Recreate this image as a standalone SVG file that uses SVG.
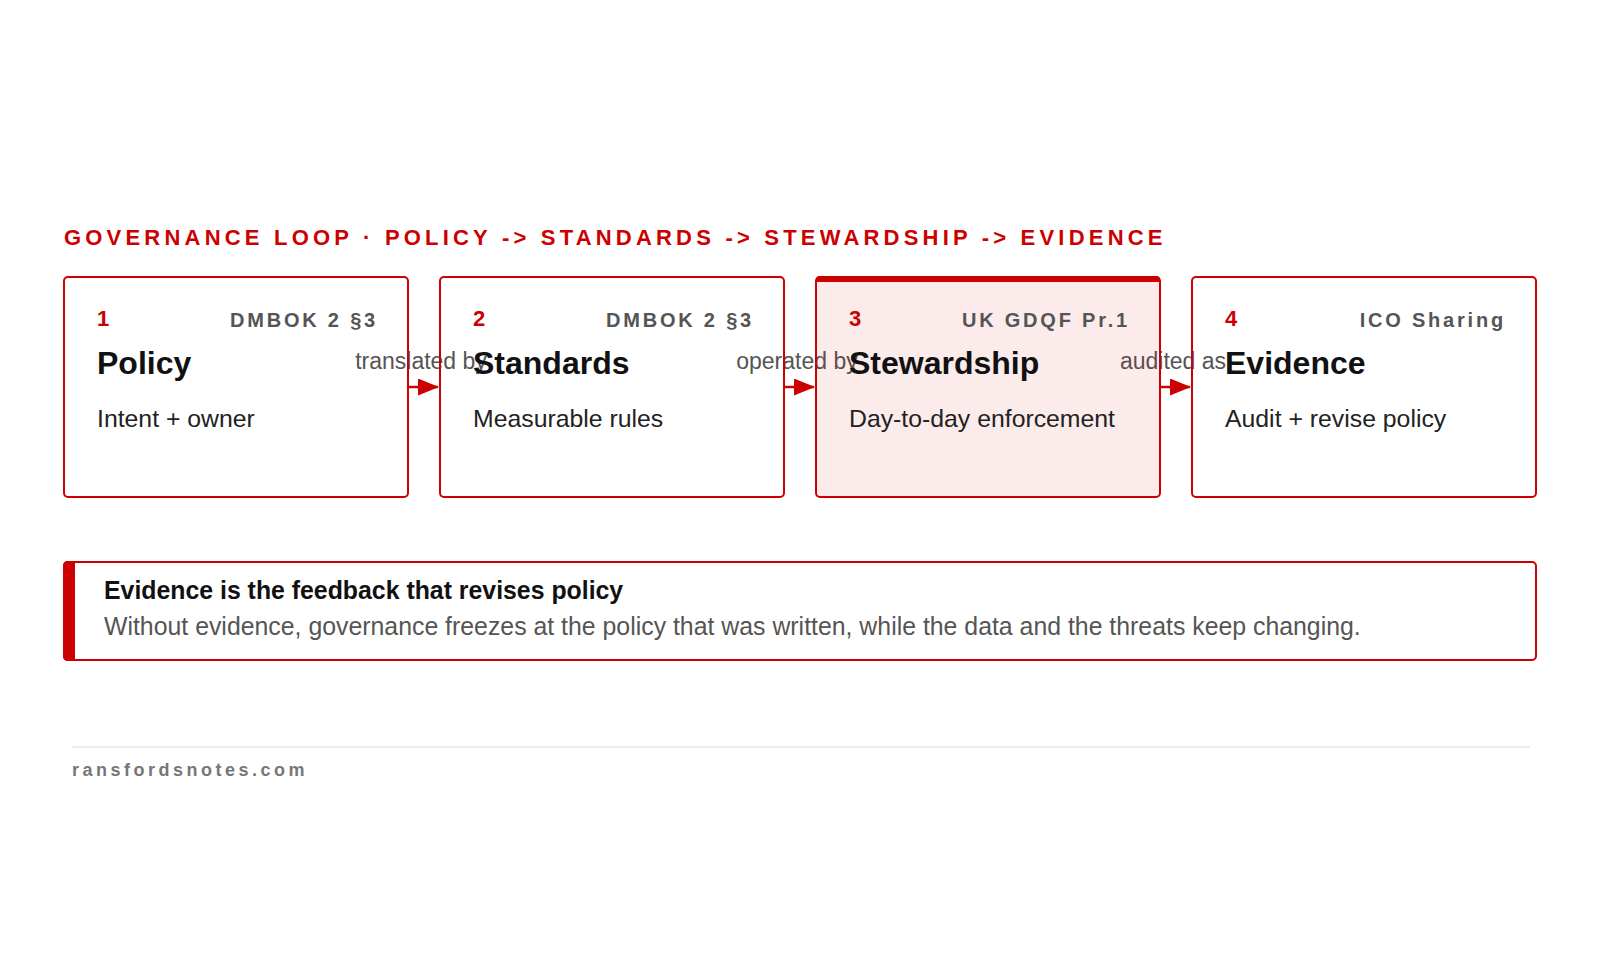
<svg xmlns="http://www.w3.org/2000/svg" width="1600" height="960" viewBox="0 0 1600 960">
<style>
text{font-family:"Liberation Sans",Arial,sans-serif}
.ttl{font-size:22px;font-weight:700;fill:#cc0000;letter-spacing:4.2px}
.box{fill:none;stroke:#cc0000;stroke-width:2}
.hl{fill:#cc0000;fill-opacity:0.08}
.num{font-size:22px;font-weight:700;fill:#cc0000}
.ref{font-size:20px;font-weight:700;fill:#555;letter-spacing:2.8px;text-anchor:end}
.name{font-size:32px;font-weight:700;fill:#111}
.body{font-size:24.8px;fill:#222}
.lbl{font-size:23px;fill:#555;text-anchor:middle}
.edge{stroke:#cc0000;stroke-width:2.5;fill:none}
.ch{font-size:24.85px;font-weight:700;fill:#111}
.cb{font-size:24.85px;fill:#555}
.foot{font-size:18px;font-weight:700;fill:#777;letter-spacing:3.5px}
</style>
<defs>
<marker id="arr" markerWidth="22" markerHeight="18" refX="20" refY="8.5" orient="auto" markerUnits="userSpaceOnUse">
<path d="M0,0 L21,8.5 L0,17 Z" fill="#cc0000"/>
</marker>
</defs>
<rect width="1600" height="960" fill="#fff"/>
<text class="ttl" x="64" y="245">GOVERNANCE LOOP · POLICY -&gt; STANDARDS -&gt; STEWARDSHIP -&gt; EVIDENCE</text>
<g id="connectors">
<path class="edge" d="M408,387 L438,387" marker-end="url(#arr)"/>
<path class="edge" d="M784,387 L814,387" marker-end="url(#arr)"/>
<path class="edge" d="M1160,387 L1190,387" marker-end="url(#arr)"/>
<text class="lbl" x="421" y="369">translated by</text>
<text class="lbl" x="797" y="369">operated by</text>
<text class="lbl" x="1173" y="369">audited as</text>
</g>
<g id="node-policy">
<rect class="box" x="64" y="277" width="344" height="220" rx="4"/>
<text class="num" x="97" y="326">1</text>
<text class="ref" x="378" y="327">DMBOK 2 §3</text>
<text class="name" x="97" y="374">Policy</text>
<text class="body" x="97" y="427">Intent + owner</text>
</g>
<g id="node-standards">
<rect class="box" x="440" y="277" width="344" height="220" rx="4"/>
<text class="num" x="473" y="326">2</text>
<text class="ref" x="754" y="327">DMBOK 2 §3</text>
<text class="name" x="473" y="374">Standards</text>
<text class="body" x="473" y="427">Measurable rules</text>
</g>
<g id="node-stewardship">
<rect class="hl" x="816" y="277" width="344" height="220" rx="4"/>
<rect class="box" x="816" y="277" width="344" height="220" rx="4"/>
<path d="M816,282 L816,280 Q816,276 820,276 L1156,276 Q1160,276 1160,280 L1160,282 Z" fill="#cc0000"/>
<text class="num" x="849" y="326">3</text>
<text class="ref" x="1130" y="327">UK GDQF Pr.1</text>
<text class="name" x="849" y="374">Stewardship</text>
<text class="body" x="849" y="427">Day-to-day enforcement</text>
</g>
<g id="node-evidence">
<rect class="box" x="1192" y="277" width="344" height="220" rx="4"/>
<text class="num" x="1225" y="326">4</text>
<text class="ref" x="1506" y="327">ICO Sharing</text>
<text class="name" x="1225" y="374">Evidence</text>
<text class="body" x="1225" y="427">Audit + revise policy</text>
</g>
<g id="callout">
<rect class="box" x="64" y="562" width="1472" height="98" rx="4"/>
<path d="M75,561 L68,561 Q63,561 63,566 L63,656 Q63,661 68,661 L75,661 Z" fill="#cc0000"/>
<text class="ch" x="104" y="599">Evidence is the feedback that revises policy</text>
<text class="cb" x="104" y="635">Without evidence, governance freezes at the policy that was written, while the data and the threats keep changing.</text>
</g>
<line x1="72" y1="747" x2="1530" y2="747" stroke="#e6e6e6" stroke-width="1.5"/>
<text class="foot" x="72" y="776">ransfordsnotes.com</text>
</svg>
